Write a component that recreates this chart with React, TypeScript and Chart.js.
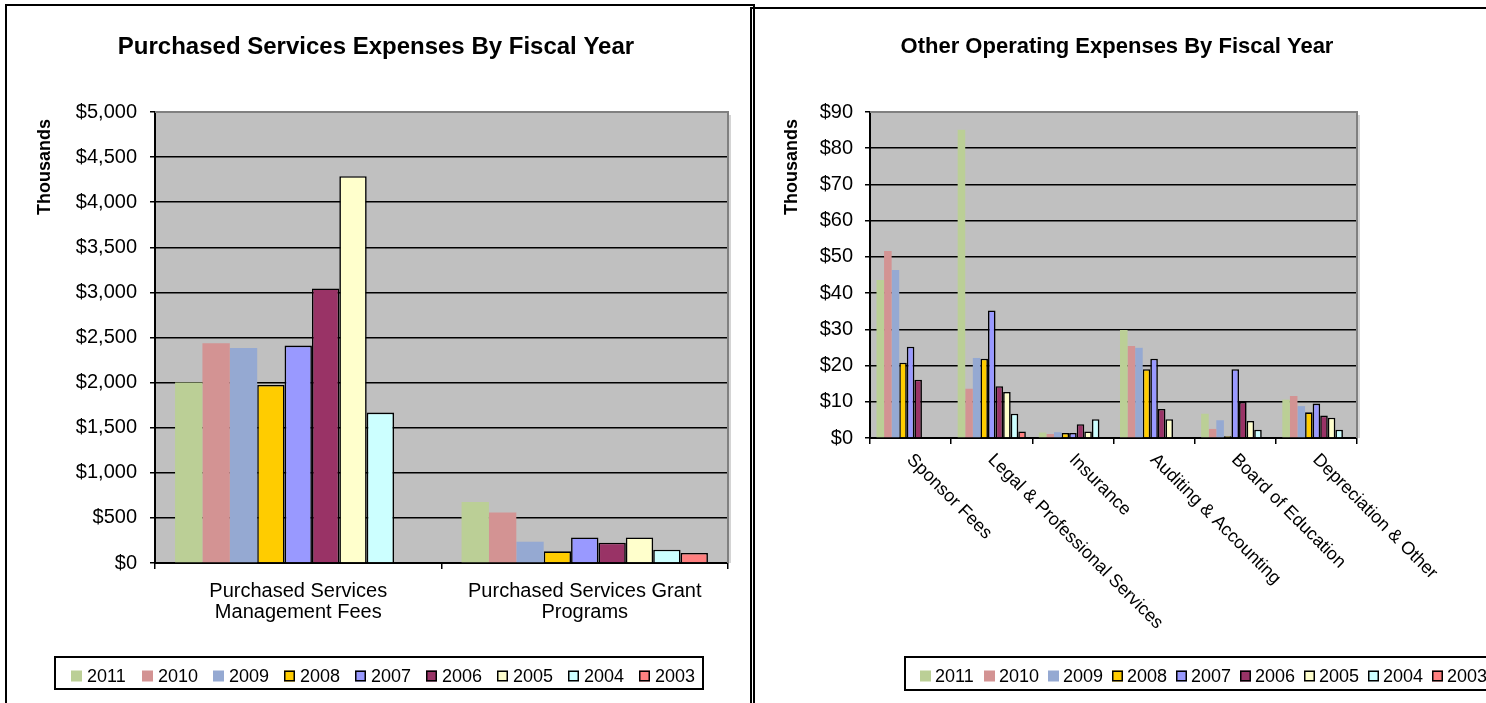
import React, { useEffect, useRef } from "react";
import { Chart, registerables } from "chart.js";

Chart.register(...registerables);

const FONT = "'Liberation Sans', Arial, Helvetica, sans-serif";

// ---------- shared series info ----------
const YEARS = ["2011", "2010", "2009", "2008", "2007", "2006", "2005", "2004", "2003"];
const COLORS = ["#BBCF96", "#D39393", "#95A9D2", "#FFCC00", "#9999FF", "#993366", "#FFFFCC", "#CCFFFF", "#FF8080"];
const OUTLINED = [false, false, false, true, true, true, true, true, true];

// ---------- left chart: Purchased Services ----------
const PS_TITLE = "Purchased Services Expenses By Fiscal Year";
const PS_CATEGORIES = [
  ["Purchased Services", "Management Fees"],
  ["Purchased Services Grant", "Programs"],
];
const PS_2011 = [2000, 675];
const PS_2010 = [2435, 561];
const PS_2009 = [2384, 236];
const PS_2008 = [1974, 129];
const PS_2007 = [2410, 284];
const PS_2006 = [3044, 225];
const PS_2005 = [4288, 284];
const PS_2004 = [1668, 148];
const PS_2003 = [0, 111];
const PS_SERIES = [PS_2011, PS_2010, PS_2009, PS_2008, PS_2007, PS_2006, PS_2005, PS_2004, PS_2003];
const PS_MAX = 5000;
const PS_STEP = 500;

// ---------- right chart: Other Operating ----------
const OE_TITLE = "Other Operating Expenses By Fiscal Year";
const OE_CATEGORIES = [
  "Sponsor Fees",
  "Legal & Professional Services",
  "Insurance",
  "Auditing & Accounting",
  "Board of Education",
  "Depreciation & Other",
];
const OE_2011 = [43.6, 85.1, 1.5, 29.8, 6.7, 10.6];
const OE_2010 = [51.6, 13.6, 1.1, 25.4, 2.5, 11.6];
const OE_2009 = [46.4, 22.1, 1.6, 24.9, 4.9, 8.8];
const OE_2008 = [20.8, 21.9, 1.4, 19.0, 0.5, 7.1];
const OE_2007 = [25.2, 35.2, 1.4, 21.9, 19.0, 9.5];
const OE_2006 = [16.1, 14.3, 3.8, 8.0, 10.0, 6.2];
const OE_2005 = [0, 12.7, 1.8, 5.2, 4.7, 5.6];
const OE_2004 = [0, 6.7, 5.2, 0, 2.3, 2.3];
const OE_2003 = [0, 1.8, 0, 0, 0, 0];
const OE_SERIES = [OE_2011, OE_2010, OE_2009, OE_2008, OE_2007, OE_2006, OE_2005, OE_2004, OE_2003];
const OE_MAX = 90;
const OE_STEP = 10;

const Y_TITLE = "Thousands";

type Layout = {
  width: number;
  height: number;
  plotLeft: number;
  plotRight: number;
  plotTop: number;
  plotBottom: number;
  tickPad: number;
  title: string;
  titleSize: number;
  titleX: number;
  titleY: number;
  yTitleX: number;
  yTitleTop: number;
  legend: { left: number; top: number; right: number; bottom: number; x0: number; step: number; gap: number; cy: number };
  catPct: number;
  rotLabels?: string[];
  xLabelPad?: number;
};

function buildDatasets(series: number[][]) {
  return series.map((vals, i) => ({
    label: YEARS[i],
    data: vals.map((v) => (v === 0 ? null : v)),
    backgroundColor: COLORS[i],
    borderColor: "#000000",
    borderWidth: OUTLINED[i] ? 1.6 : 0,
    barPercentage: 1,
  }));
}

function overlayPlugin(L: Layout) {
  return {
    id: "overlay",
    beforeDraw(chart: any) {
      const { ctx, chartArea: a } = chart;
      ctx.save();
      ctx.fillStyle = "#C0C0C0";
      ctx.fillRect(a.left, a.top, a.right - a.left, a.bottom - a.top);
      ctx.restore();
    },
    afterDraw(chart: any) {
      const { ctx, chartArea: a } = chart;
      ctx.save();
      // plot frame (top/right)
      ctx.strokeStyle = "#808080";
      ctx.lineWidth = 2;
      ctx.beginPath();
      ctx.moveTo(a.left, a.top);
      ctx.lineTo(a.right, a.top);
      ctx.lineTo(a.right, a.bottom);
      ctx.stroke();
      ctx.strokeStyle = "#D4D4D4";
      ctx.lineWidth = 2;
      ctx.beginPath();
      ctx.moveTo(a.right + 2, a.top + 3);
      ctx.lineTo(a.right + 2, a.bottom);
      ctx.stroke();

      // title
      ctx.fillStyle = "#000";
      ctx.font = `bold ${L.titleSize}px ${FONT}`;
      ctx.textAlign = "center";
      ctx.textBaseline = "middle";
      ctx.fillText(L.title, L.titleX, L.titleY);

      // y-axis title
      ctx.save();
      ctx.translate(L.yTitleX, L.yTitleTop);
      ctx.rotate(-Math.PI / 2);
      ctx.font = `bold 18px ${FONT}`;
      ctx.textAlign = "right";
      ctx.textBaseline = "middle";
      ctx.fillText(Y_TITLE, 0, 0);
      ctx.restore();

      // rotated category labels
      if (L.rotLabels) {
        const xs = chart.scales.x;
        ctx.font = `18px ${FONT}`;
        ctx.textAlign = "left";
        ctx.textBaseline = "middle";
        L.rotLabels.forEach((lab, i) => {
          const cx = xs.getPixelForValue(i);
          ctx.save();
          ctx.translate(cx - 1, a.bottom + (L.xLabelPad || 16));
          ctx.rotate(Math.PI / 4);
          ctx.fillText(lab, 0, 0);
          ctx.restore();
        });
      }

      // legend
      const G = L.legend;
      ctx.strokeStyle = "#000";
      ctx.lineWidth = 2;
      ctx.strokeRect(G.left, G.top, G.right - G.left, G.bottom - G.top);
      chart.data.datasets.forEach((ds: any, i: number) => {
        const x = G.x0 + i * G.step;
        const y = G.cy - 5.5;
        ctx.fillStyle = ds.backgroundColor;
        ctx.fillRect(x, y, 11, 11);
        if (ds.borderWidth) {
          ctx.strokeStyle = "#000";
          ctx.lineWidth = 1.5;
          ctx.strokeRect(x + 0.75, y + 0.75, 9.5, 9.5);
        }
        ctx.fillStyle = "#000";
        ctx.font = `18px ${FONT}`;
        ctx.textAlign = "left";
        ctx.textBaseline = "middle";
        ctx.fillText(ds.label, x + G.gap, G.cy + 1);
      });
      ctx.restore();
    },
  };
}

function makeConfig(L: Layout, categories: any[], series: number[][], max: number, step: number): any {
  return {
    type: "bar",
    data: { labels: categories, datasets: buildDatasets(series) },
    plugins: [overlayPlugin(L)],
    options: {
      animation: false,
      responsive: false,
      maintainAspectRatio: false,
      devicePixelRatio: 1,
      datasets: { bar: { categoryPercentage: L.catPct, barPercentage: 1 } },
      layout: {
        padding: { top: L.plotTop, left: 0, right: L.width - L.plotRight, bottom: 0 },
      },
      plugins: { legend: { display: false }, title: { display: false }, tooltip: { enabled: false } },
      scales: {
        x: {
          afterFit: (s: any) => {
            s.height = L.height - L.plotBottom;
          },
          grid: {
            display: true,
            offset: true,
            drawOnChartArea: false,
            drawTicks: true,
            tickLength: 6,
            color: "#000",
            tickColor: "#000",
            lineWidth: 1.5,
          },
          border: { display: true, color: "#000", width: 2 },
          ticks: {
            display: !L.rotLabels,
            color: "#000",
            maxRotation: 0,
            minRotation: 0,
            autoSkip: false,
            padding: L.xLabelPad || 10,
            font: { family: FONT, size: 20, lineHeight: 1.05 },
          },
        },
        y: {
          min: 0,
          max,
          afterFit: (s: any) => {
            s.width = L.plotLeft;
          },
          grid: {
            color: (c: any) => (c.tick && c.tick.value === max ? "#808080" : "#000"),
            tickColor: "#000",
            lineWidth: 1.5,
            drawTicks: true,
            tickLength: 5,
          },
          border: { display: true, color: "#000", width: 2 },
          ticks: {
            stepSize: step,
            color: "#000",
            padding: L.tickPad,
            font: { family: FONT, size: 20 },
            callback: (v: any) => "$" + Number(v).toLocaleString("en-US"),
          },
        },
      },
    },
  };
}

function ChartCanvas({ layout, left, build }: { layout: Layout; left: number; build: () => any }) {
  const ref = useRef<HTMLCanvasElement>(null);
  useEffect(() => {
    const chart = new Chart(ref.current as HTMLCanvasElement, build());
    return () => chart.destroy();
  }, []);
  return (
    <canvas
      ref={ref}
      width={layout.width}
      height={layout.height}
      style={{ position: "absolute", left, top: 0, width: layout.width, height: layout.height }}
    />
  );
}

const LEFT_LAYOUT: Layout = {
  width: 752,
  height: 703,
  plotLeft: 155,
  plotRight: 728,
  plotTop: 112,
  plotBottom: 563,
  tickPad: 13,
  title: PS_TITLE,
  titleSize: 24,
  titleX: 376,
  titleY: 47,
  yTitleX: 45,
  yTitleTop: 119,
  legend: { left: 55, top: 657, right: 703, bottom: 689, x0: 71, step: 71, gap: 16, cy: 676 },
  catPct: 0.86,
  xLabelPad: 12,
};

const RIGHT_LAYOUT: Layout = {
  width: 734,
  height: 703,
  plotLeft: 118,
  plotRight: 605,
  plotTop: 112,
  plotBottom: 438,
  tickPad: 12,
  title: OE_TITLE,
  titleSize: 22,
  titleX: 365,
  titleY: 47,
  yTitleX: 40,
  yTitleTop: 119,
  legend: { left: 153, top: 657, right: 770, bottom: 690, x0: 168, step: 64, gap: 15, cy: 676 },
  catPct: 0.84,
  rotLabels: OE_CATEGORIES,
  xLabelPad: 19,
};

export default function App() {
  return (
    <div
      style={{
        position: "fixed",
        left: 0,
        top: 0,
        width: 1486,
        height: 703,
        overflow: "hidden",
        background: "#fff",
      }}
    >
      <div
        style={{
          position: "absolute",
          left: 5,
          top: 4,
          width: 746,
          height: 760,
          border: "2px solid #000",
          boxSizing: "content-box",
        }}
      />
      <div
        style={{
          position: "absolute",
          left: 750,
          top: 7,
          width: 900,
          height: 760,
          border: "2px solid #000",
        }}
      />
      <ChartCanvas
        layout={LEFT_LAYOUT}
        left={0}
        build={() => makeConfig(LEFT_LAYOUT, PS_CATEGORIES, PS_SERIES, PS_MAX, PS_STEP)}
      />
      <ChartCanvas
        layout={RIGHT_LAYOUT}
        left={752}
        build={() => makeConfig(RIGHT_LAYOUT, OE_CATEGORIES, OE_SERIES, OE_MAX, OE_STEP)}
      />
    </div>
  );
}
